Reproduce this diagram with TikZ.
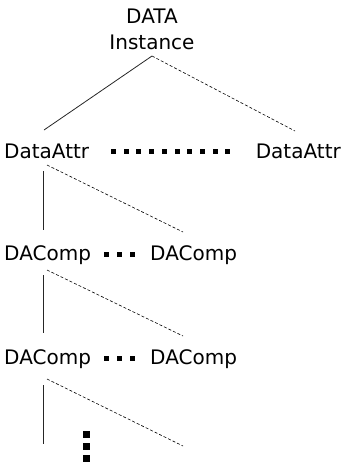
\documentclass[tikz,border=0pt]{standalone}
\usepackage{fontspec}
\setmainfont{DejaVu Sans}
\begin{document}
\begin{tikzpicture}[x=1pt,y=-1pt,
  lbl/.style={inner sep=0pt,font=\fontsize{20}{26}\selectfont},
  solidln/.style={line width=0.8pt,black!85},
  dashln/.style={line width=0.6pt,dash pattern=on 3pt off 2pt},
  sq/.style={fill=black,minimum size=5pt,inner sep=0pt,draw=none},
  vsq/.style={fill=black,minimum size=6.5pt,inner sep=0pt,draw=none}]
\useasboundingbox (0,0) rectangle (342,463);
\node[lbl,align=center,anchor=base] (root) at (152,49) {DATA\\Instance};
\node[lbl,anchor=base west] (da1) at (4,158) {DataAttr};
\node[lbl,anchor=base east] (da2) at (341,158) {DataAttr};
\node[lbl,anchor=base west] (dc1) at (4,260) {DAComp};
\node[lbl,anchor=base west] (dc2) at (150,260) {DAComp};
\node[lbl,anchor=base west] (dc3) at (4,364) {DAComp};
\node[lbl,anchor=base west] (dc4) at (150,364) {DAComp};
% connector end points
\coordinate (r0) at (152,56);
\coordinate (r1) at (44,130);
\coordinate (r2) at (295,131);
\coordinate (a0) at (43,171);
\coordinate (a1) at (43,230);
\coordinate (ad0) at (47,165);
\coordinate (ad1) at (183,232);
\coordinate (b0) at (43,275);
\coordinate (b1) at (43,333);
\coordinate (bd0) at (47,270);
\coordinate (bd1) at (183,336);
\coordinate (c0) at (43,385);
\coordinate (c1) at (43,444);
\coordinate (cd0) at (47,379);
\coordinate (cd1) at (183,446);
\draw[solidln] (r0) -- (r1);
\draw[dashln] (r0) -- (r2);
\draw[solidln] (a0) -- (a1);
\draw[dashln] (ad0) -- (ad1);
\draw[solidln] (b0) -- (b1);
\draw[dashln] (bd0) -- (bd1);
\draw[solidln] (c0) -- (c1);
\draw[dashln] (cd0) -- (cd1);
% square dots
\foreach \i in {0,...,9} \node[sq] (s1\i) at (113.5+12.7*\i,151.5) {};
\foreach \i in {0,...,2} \node[sq] (s2\i) at (106.5+13*\i,254.5) {};
\foreach \i in {0,...,2} \node[sq] (s3\i) at (106.5+13*\i,358) {};
\foreach \i in {0,...,2} \node[vsq] (sv\i) at (86.5,434.5+12*\i) {};
\end{tikzpicture}
\end{document}
